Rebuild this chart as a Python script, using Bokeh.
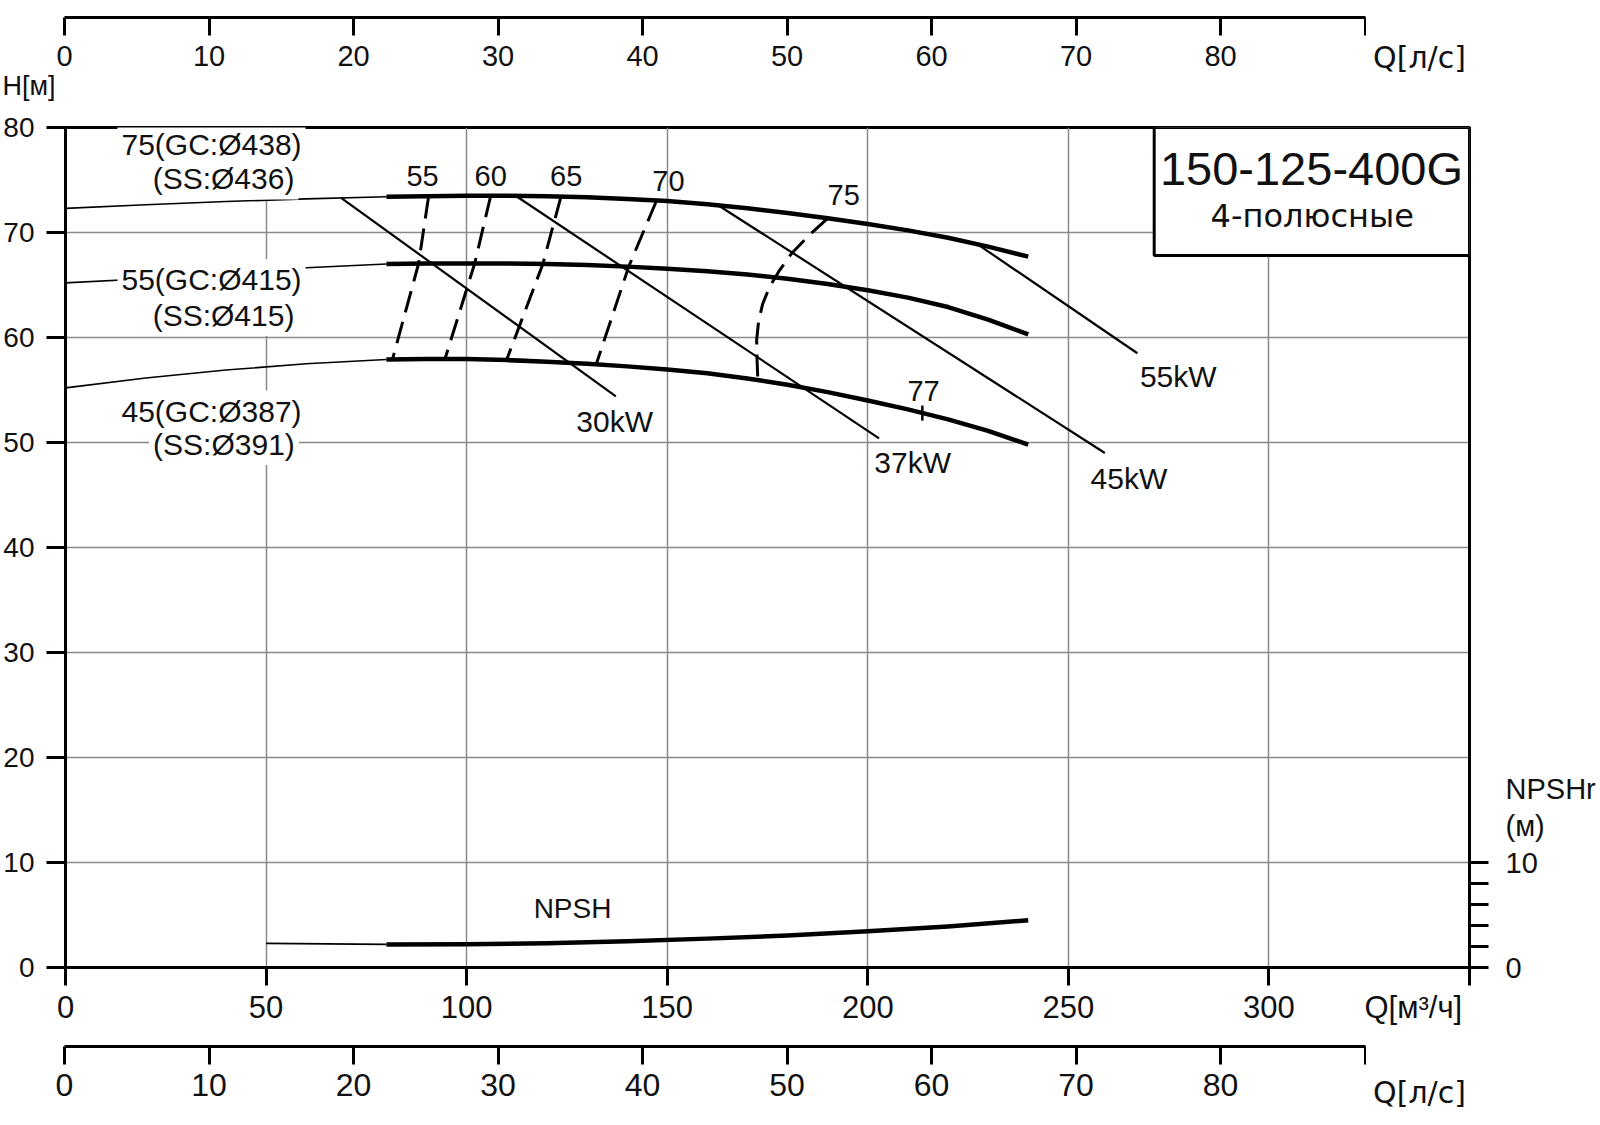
from bokeh.plotting import figure
from bokeh.models import Range1d, LinearAxis, FixedTicker, Label, BoxAnnotation, Title
from bokeh.layouts import column, row
from bokeh.embed import file_html
from bokeh.resources import INLINE
import math

FONT = "Liberation Sans"
FONT2 = "DejaVu Sans"

# ---------------- data ----------------
q_m3h_ticks = [0, 50, 100, 150, 200, 250, 300, 350]
q_m3h_title_pos = 336
q_ls_ticks = [0, 10, 20, 30, 40, 50, 60, 70, 80, 90]
h_ticks = [0, 10, 20, 30, 40, 50, 60, 70, 80]
npsh_ticks = [0, 10]
npsh_minor_ticks = [0, 2, 4, 6, 8, 10]
grid_q = [50, 100, 150, 200, 250, 300]
grid_h = [10, 20, 30, 40, 50, 60, 70]

# head curves (thick, working range)
q_work = [80, 90, 100, 110, 120, 130, 140, 150, 160, 170, 180, 190, 200, 210, 220, 230, 240]
h_438 = [73.4, 73.45, 73.5, 73.5, 73.45, 73.35, 73.2, 73.0, 72.7, 72.3, 71.85, 71.35, 70.8,
         70.2, 69.5, 68.65, 67.7]
h_415 = [67.0, 67.05, 67.05, 67.05, 67.0, 66.9, 66.75, 66.55, 66.3, 66.0, 65.6, 65.1, 64.5,
         63.8, 62.9, 61.7, 60.3]
h_387 = [57.9, 57.95, 57.95, 57.85, 57.7, 57.5, 57.25, 56.95, 56.6, 56.1, 55.5, 54.8, 54.0,
         53.15, 52.2, 51.1, 49.8]

# head curves (thin, low-flow part)
q_low = [0, 20, 40, 60, 80]
h_438_low = [72.3, 72.65, 72.95, 73.2, 73.4]
h_415_low = [65.2, 65.6, 66.1, 66.65, 67.0]
h_387_low = [55.2, 56.15, 56.9, 57.5, 57.9]

# NPSH
q_npsh = [80, 100, 120, 140, 160, 180, 200, 220, 240]
npsh = [2.2, 2.22, 2.3, 2.5, 2.75, 3.05, 3.45, 3.9, 4.5]
q_npsh_low = [50, 80]
npsh_low = [2.3, 2.2]

# iso-efficiency lines
eff_names = ["55", "60", "65", "70", "75"]
eff_q = [
    [90.5, 88.0, 81.5],
    [106.0, 102.0, 94.6],
    [123.5, 119.0, 110.0],
    [147.3, 140.4, 132.3],
    [190.0, 185.0, 181.0, 178.0, 175.5, 173.8, 172.8, 172.3, 172.4, 172.6],
]
eff_h = [
    [73.4, 67.0, 57.9],
    [73.5, 67.05, 57.95],
    [73.4, 67.0, 57.9],
    [73.0, 66.75, 57.45],
    [71.35, 69.6, 68.0, 66.4, 64.8, 63.2, 61.6, 59.8, 57.8, 55.9],
]
eff_max_name = "77"
eff_max_q = [213.6]
eff_max_h = [52.8]

# motor power lines
kw_names = ["30kW", "37kW", "45kW", "55kW"]
kw_q = [[68.7, 137.2], [112.4, 202.8], [162.7, 259.1], [227.3, 267.2]]
kw_h = [[73.3, 54.4], [73.45, 50.4], [72.6, 49.0], [68.9, 58.5]]

curve_names = [("75(GC:Ø438)", "(SS:Ø436)"),
               ("55(GC:Ø415)", "(SS:Ø415)"),
               ("45(GC:Ø387)", "(SS:Ø391)")]

model_name = "150-125-400G"
model_sub = "4-полюсные"

Q_MAX = 350.0
M3H_TO_LS = 1 / 3.6

# ---------------- layout constants ----------------
W = 1600
BL, BR = 64, 131
FRAME_W = W - BL - BR
PX_PER_LS = FRAME_W / (Q_MAX * M3H_TO_LS)
LS_FIG_W = 1366
LS_FRAME_W = LS_FIG_W - BL - 1
LBL_W = W - LS_FIG_W
TOP_H = 108
MAIN_H = 925
BOT_H = 1125 - TOP_H - MAIN_H


def style_axis(ax, size, standoff, tick=18):
    ax.axis_line_width = 3
    ax.axis_line_color = "black"
    ax.major_tick_line_width = 3
    ax.major_tick_line_color = "black"
    ax.major_tick_out = tick
    ax.major_tick_in = 0
    ax.minor_tick_out = 0
    ax.minor_tick_in = 0
    ax.major_label_text_font = FONT
    ax.major_label_text_font_size = size
    ax.major_label_text_color = "#111111"
    ax.major_label_standoff = standoff


def ls_figure(height, frame_h):
    f = figure(width=LS_FIG_W, height=height,
               x_range=Range1d(0, LS_FRAME_W / PX_PER_LS), y_range=Range1d(0, 1),
               x_axis_location="below", y_axis_location=None,
               toolbar_location=None, output_backend="svg",
               min_border_left=BL, min_border_right=1, min_border_top=0,
               min_border_bottom=height - frame_h)
    f.outline_line_color = None
    f.grid.visible = False
    ax = f.xaxis[0]
    ax.ticker = FixedTicker(ticks=q_ls_ticks)
    ax.major_label_overrides = {90: ""}
    return f


def unit_figure(height, frame_h, text, x_px, standoff):
    # small companion figure whose only axis label carries the unit text
    f = figure(width=LBL_W, height=height, x_range=Range1d(0, LBL_W), y_range=Range1d(0, 1),
               x_axis_location="below", y_axis_location=None,
               toolbar_location=None, output_backend="svg",
               min_border_left=0, min_border_right=0, min_border_top=0,
               min_border_bottom=height - frame_h)
    f.outline_line_color = None
    f.grid.visible = False
    ax = f.xaxis[0]
    ax.ticker = FixedTicker(ticks=[x_px])
    ax.major_label_overrides = {x_px: text}
    style_axis(ax, "30px", standoff, tick=0)
    ax.axis_line_color = None
    ax.major_tick_line_color = None
    ax.major_label_text_font = FONT2
    return f


# ---------------- top l/s axis ----------------
top = ls_figure(TOP_H, 17)
style_axis(top.xaxis[0], "29px", 10)
top.add_layout(Title(text="H[м]", align="left", offset=-62, standoff=0,
                     text_font=FONT, text_font_size="27px", text_font_style="normal",
                     text_color="#111111"), "below")
top_unit = unit_figure(TOP_H, 17, "Q[л/с]", 53, 22)

# ---------------- main chart ----------------
p = figure(width=W, height=MAIN_H, x_range=Range1d(0, Q_MAX), y_range=Range1d(0, 80),
           toolbar_location=None, output_backend="svg",
           min_border_left=BL, min_border_right=BR, min_border_top=127 - TOP_H,
           min_border_bottom=MAIN_H - (127 - TOP_H) - 840)
p.outline_line_color = "black"
p.outline_line_width = 3
p.background_fill_color = "white"

xa = p.xaxis[0]
xa.ticker = FixedTicker(ticks=q_m3h_ticks[:-1] + [q_m3h_title_pos], minor_ticks=q_m3h_ticks)
xa.major_label_overrides = {q_m3h_title_pos: "Q[м³/ч]"}
style_axis(xa, "31px", 4, tick=0)
xa.minor_tick_out = 18
xa.minor_tick_line_width = 3
xa.minor_tick_line_color = "black"

ya = p.yaxis[0]
ya.ticker = FixedTicker(ticks=h_ticks)
style_axis(ya, "28px", 12, tick=19)

ra = LinearAxis(ticker=FixedTicker(ticks=npsh_ticks + [13.5, 17.0], minor_ticks=npsh_minor_ticks))
style_axis(ra, "29px", 17, tick=0)
ra.major_label_overrides = {13.5: "(м)", 17.0: "NPSHr"}
ra.minor_tick_out = 19
ra.minor_tick_line_width = 3
ra.minor_tick_line_color = "black"
p.add_layout(ra, "right")

p.xgrid[0].ticker = FixedTicker(ticks=grid_q)
p.ygrid[0].ticker = FixedTicker(ticks=grid_h)
for g in (p.xgrid[0], p.ygrid[0]):
    g.grid_line_color = "#8a8a8a"
    g.grid_line_width = 1.5

# thin low-flow parts
for hl in (h_438_low, h_415_low, h_387_low):
    p.line(q_low, hl, line_color="black", line_width=1.6)
p.line(q_npsh_low, npsh_low, line_color="black", line_width=1.6)

# power lines
for qq, hh in zip(kw_q, kw_h):
    p.line(qq, hh, line_color="black", line_width=2.2)

# efficiency lines
for qq, hh in zip(eff_q, eff_h):
    p.line(qq, hh, line_color="black", line_width=3, line_dash="22 10")

# head curves thick
for hw in (h_438, h_415, h_387):
    p.line(q_work, hw, line_color="black", line_width=4.5, line_join="round")
p.line(q_npsh, npsh, line_color="black", line_width=4.5, line_join="round")

p.scatter(eff_max_q, eff_max_h, marker="dash", size=15, angle=math.pi / 2,
          line_color="black", line_width=2.5)

# model box
p.add_layout(BoxAnnotation(left=271.4, right=350, top=80, bottom=67.8,
                           fill_color="white", fill_alpha=1.0,
                           line_color="black", line_alpha=1.0, line_width=3,
                           level="annotation"))


def lab(x, y, text, size="30px", font=FONT, bg=None, pad=0):
    kw = dict(x=x, y=y, text=text, text_font=font, text_font_size=size,
              text_align="center", text_baseline="middle", text_color="#111111")
    if bg:
        kw.update(background_fill_color=bg, background_fill_alpha=1.0, padding=pad)
    p.add_layout(Label(**kw))


lab(310.6, 76.1, model_name, size="47px")
lab(310.8, 71.6, model_sub, size="32px", font=FONT2)

# curve labels
name_pos = [((36.4, 78.4), (39.4, 75.1)),
            ((36.4, 65.5), (39.4, 62.1)),
            ((36.4, 53.0), (39.5, 49.8))]
for (n1, n2), ((x1, y1), (x2, y2)) in zip(curve_names, name_pos):
    lab(x2, y2, n2, bg="white", pad=4)
    lab(x1, y1, n1, bg="white", pad=4)

# efficiency labels
eff_lab_pos = [(89.0, 75.4), (106.0, 75.4), (124.8, 75.4), (150.3, 74.9), (194.0, 73.6)]
for name, (x, y) in zip(eff_names, eff_lab_pos):
    lab(x, y, name, size="29px")
lab(213.9, 54.9, eff_max_name, size="29px")

# power labels
kw_lab_pos = [(136.9, 52.0), (211.2, 48.1), (265.1, 46.6), (277.4, 56.3)]
for name, (x, y) in zip(kw_names, kw_lab_pos):
    lab(x, y, name, size="30px")

lab(126.4, 5.6, "NPSH", size="28px")

# ---------------- bottom l/s axis ----------------
BOT_FRAME_H = 1046 - (TOP_H + MAIN_H)
bot = ls_figure(BOT_H, BOT_FRAME_H)
style_axis(bot.xaxis[0], "32px", 9)
bot_unit = unit_figure(BOT_H, BOT_FRAME_H, "Q[л/с]", 53, 28)

layout = column(row(top, top_unit, spacing=0), p, row(bot, bot_unit, spacing=0), spacing=0)
open("out.html", "w").write(file_html(layout, INLINE))
